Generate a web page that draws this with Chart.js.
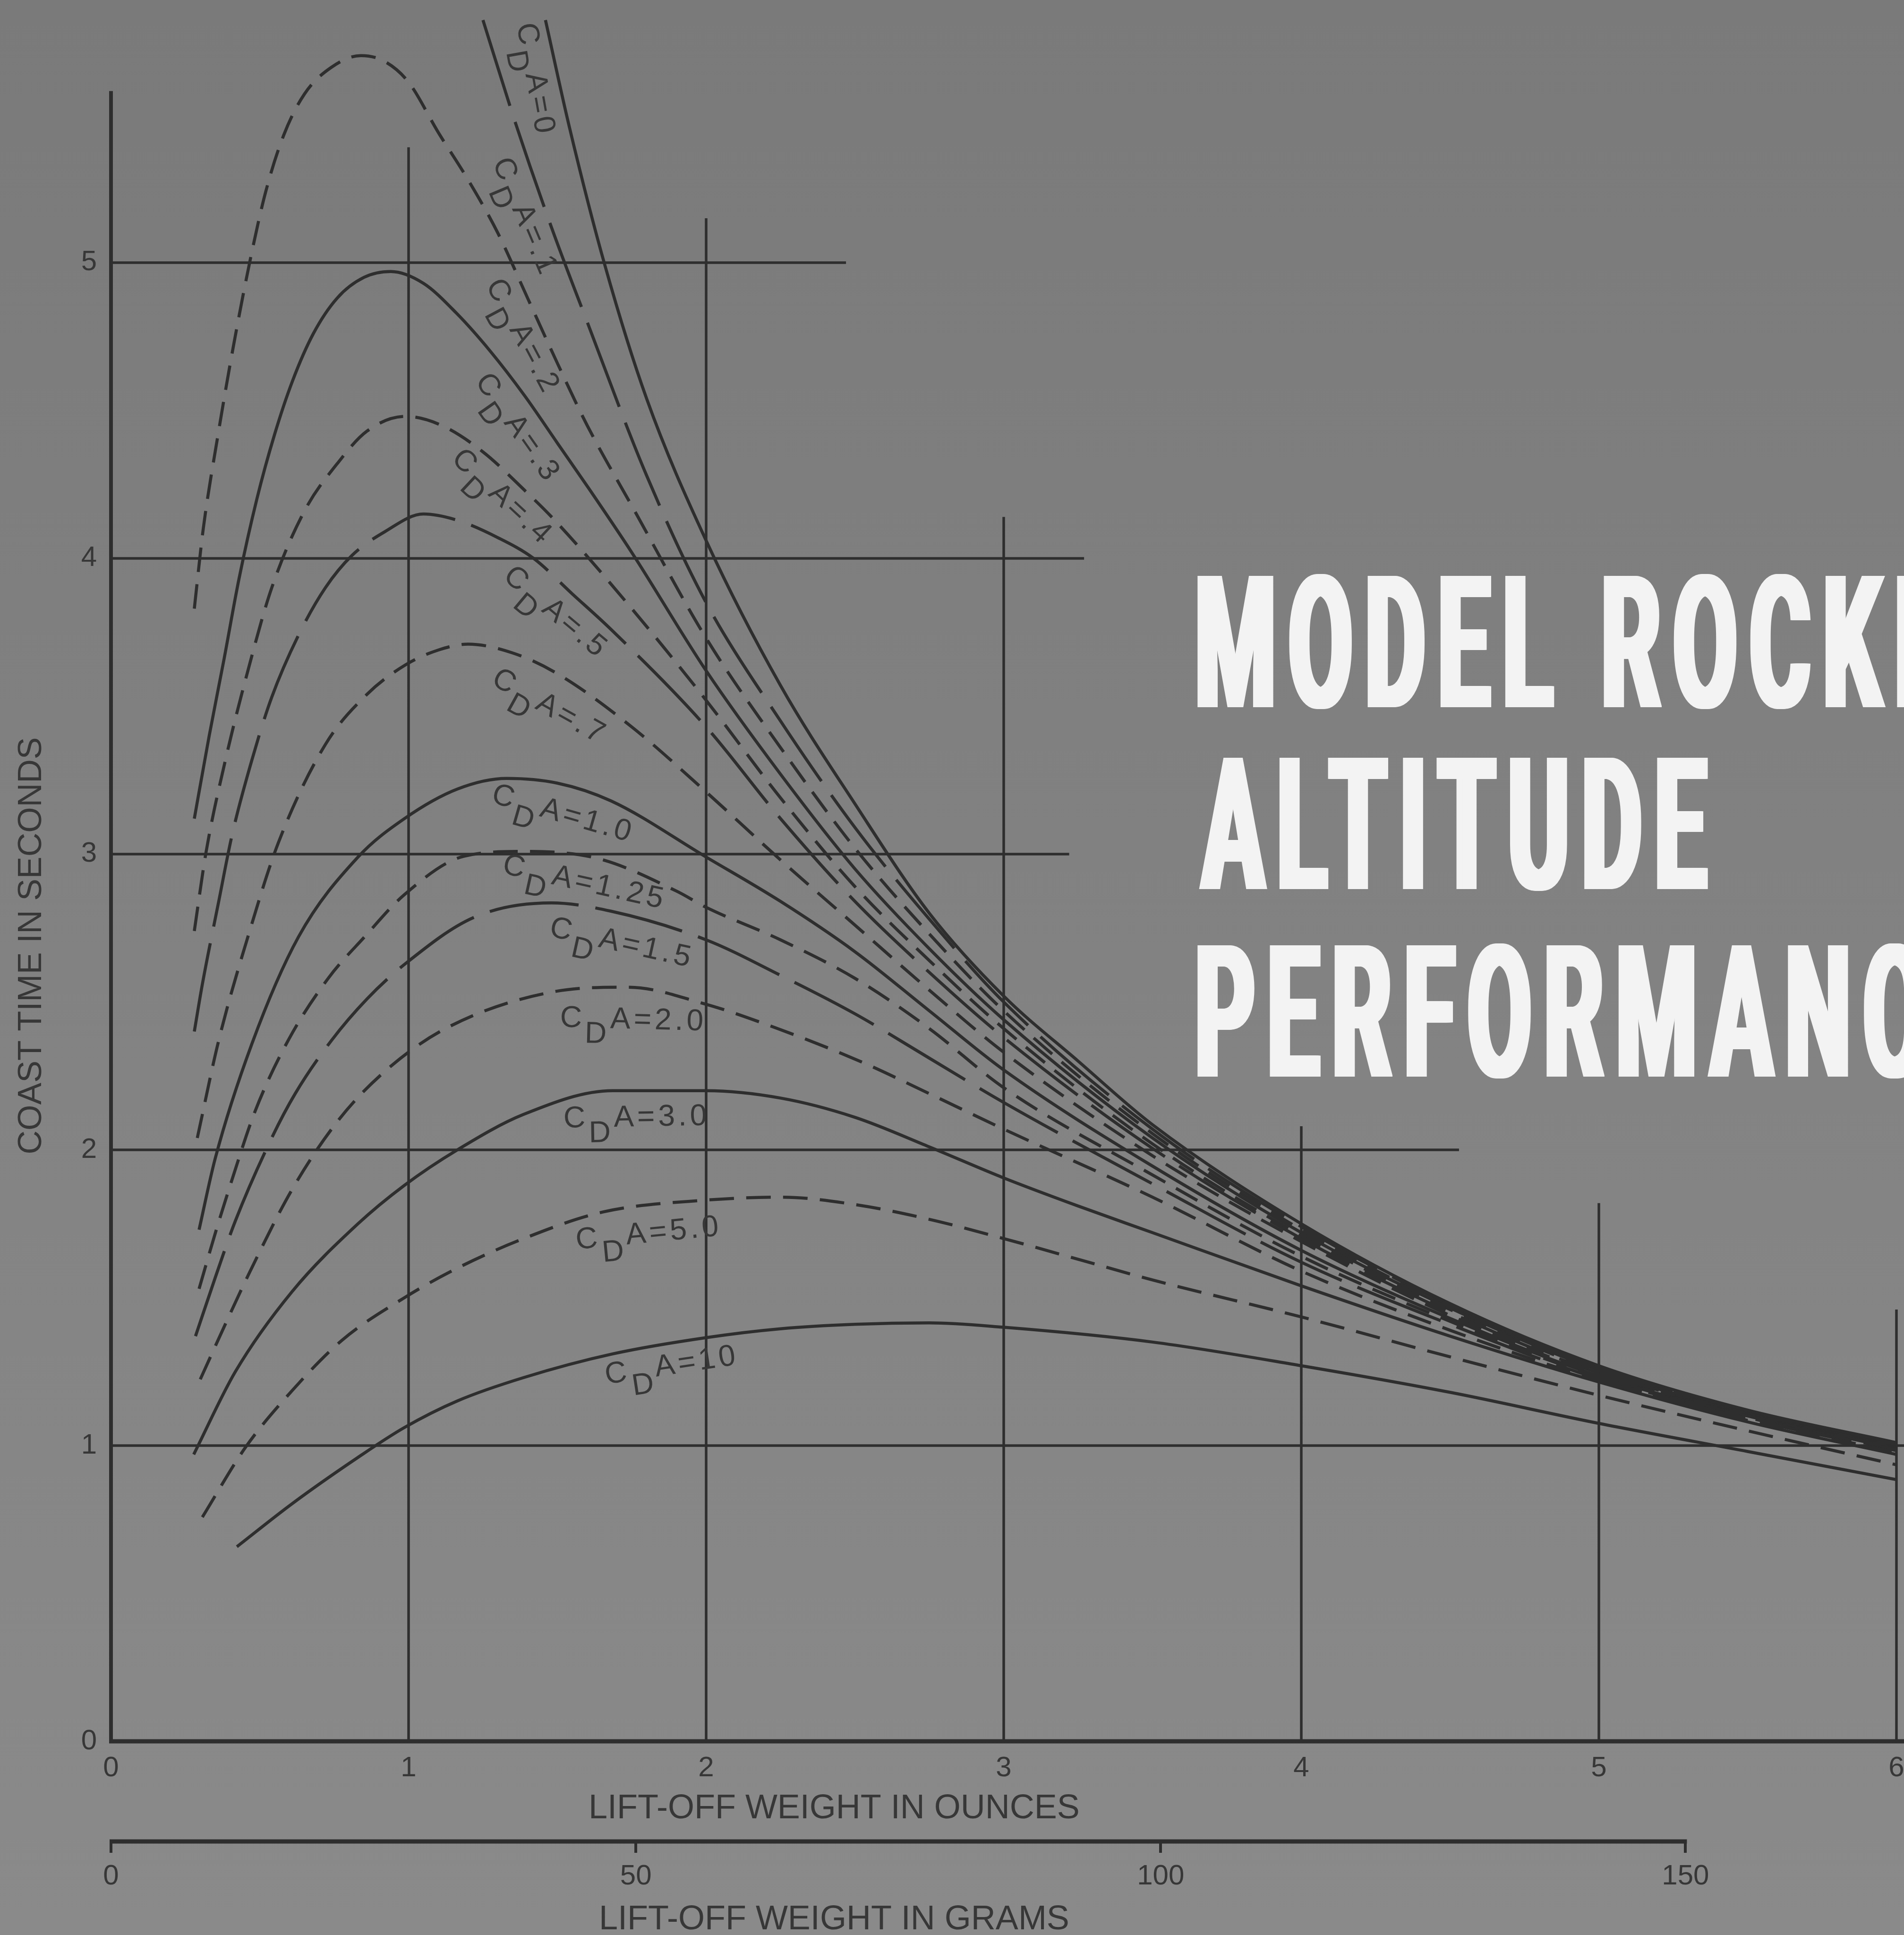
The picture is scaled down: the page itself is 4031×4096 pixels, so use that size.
<!DOCTYPE html>
<html>
<head>
<meta charset="utf-8">
<title>Model Rocketry Altitude Performance – Coast Time</title>
<script src="https://cdn.jsdelivr.net/npm/chart.js@4.4.1/dist/chart.umd.min.js"></script>
<style>
  html, body { margin: 0; padding: 0; background: #808080; overflow: hidden; }
  #wrap { width: 4031px; height: 4096px; position: relative; }
  canvas { display: block; }
</style>
</head>
<body>
<div id="wrap"><canvas id="chart" width="4031" height="4096"></canvas></div>
<script>
// ---------------------------------------------------------------
// Coast time (s) against lift-off weight (oz) for drag areas CDA
// ---------------------------------------------------------------
const ounceTicks  = [0, 1, 2, 3, 4, 5, 6];
const gramTicks   = [0, 50, 100, 150];
const secondTicks = [0, 1, 2, 3, 4, 5];
const cdaLabels   = ['0', '.1', '.2', '.3', '.4', '.5', '.7', '1.0', '1.25', '1.5', '2.0', '3.0', '5.0', '10'];

const cda0Weight = [1.46, 1.54, 1.66, 1.80, 2.00, 2.25, 2.50, 2.75, 3.00, 3.25, 3.50, 4.00, 4.50, 5.00, 5.50, 6.00];
const cda0Coast  = [5.82, 5.46, 4.99, 4.54, 4.06, 3.57, 3.17, 2.80, 2.52, 2.30, 2.085, 1.75, 1.48, 1.27, 1.12, 1.01];

const cda01Weight = [1.25, 1.36, 1.48, 1.60, 1.80, 2.00, 2.25, 2.50, 2.75, 3.00, 3.50, 4.00, 4.50, 5.00, 5.50, 6.00];
const cda01Coast  = [5.82, 5.47, 5.12, 4.80, 4.28, 3.85, 3.45, 3.09, 2.78, 2.50, 2.07, 1.74, 1.475, 1.265, 1.118, 1.008];

const cda02Weight = [0.28, 0.31, 0.36, 0.41, 0.47, 0.52, 0.58, 0.65, 0.74, 0.84, 0.92, 1.00, 1.10, 1.20, 1.30, 1.40, 1.50, 1.60, 1.76, 2.00, 2.25, 2.50, 2.75, 3.00, 3.50, 4.00, 4.50, 5.00, 5.50, 6.00];
const cda02Coast  = [3.83, 4.10, 4.42, 4.71, 5.02, 5.24, 5.43, 5.57, 5.66, 5.70, 5.68, 5.61, 5.44, 5.28, 5.10, 4.88, 4.66, 4.45, 4.16, 3.73, 3.36, 3.02, 2.73, 2.47, 2.055, 1.73, 1.47, 1.26, 1.115, 1.005];

const cda03Weight = [0.28, 0.33, 0.38, 0.43, 0.49, 0.55, 0.61, 0.68, 0.76, 0.85, 0.94, 1.05, 1.16, 1.275, 1.39, 1.50, 1.61, 1.75, 2.00, 2.25, 2.50, 2.75, 3.00, 3.50, 4.00, 4.50, 5.00, 5.50, 6.00];
const cda03Coast  = [3.12, 3.40, 3.66, 3.93, 4.20, 4.42, 4.60, 4.76, 4.88, 4.95, 4.97, 4.93, 4.83, 4.70, 4.55, 4.39, 4.23, 4.02, 3.62, 3.27, 2.95, 2.68, 2.44, 2.04, 1.72, 1.465, 1.255, 1.112, 1.003];

const cda04Weight = [0.28, 0.32, 0.385, 0.46, 0.54, 0.65, 0.76, 0.86, 0.99, 1.11, 1.25, 1.39, 1.49, 1.75, 2.00, 2.25, 2.50, 2.75, 3.00, 3.50, 4.00, 4.50, 5.00, 5.50, 6.00];
const cda04Coast  = [2.74, 3.01, 3.32, 3.62, 3.90, 4.16, 4.32, 4.43, 4.48, 4.45, 4.36, 4.23, 4.13, 3.83, 3.52, 3.19, 2.89, 2.64, 2.41, 2.02, 1.71, 1.46, 1.25, 1.11, 1.00];

const cda05Weight = [0.28, 0.307, 0.362, 0.407, 0.474, 0.54, 0.63, 0.72, 0.81, 0.92, 1.05, 1.16, 1.30, 1.42, 1.55, 1.68, 2.00, 2.25, 2.50, 2.75, 3.00, 3.50, 4.00, 4.50, 5.00, 5.50, 6.00];
const cda05Coast  = [2.40, 2.56, 2.84, 3.065, 3.32, 3.53, 3.74, 3.90, 4.01, 4.09, 4.15, 4.13, 4.07, 4.00, 3.88, 3.76, 3.43, 3.12, 2.84, 2.60, 2.38, 2.005, 1.70, 1.45, 1.245, 1.107, 0.998];

const cda07Weight = [0.29, 0.362, 0.463, 0.563, 0.72, 0.86, 0.99, 1.10, 1.20, 1.35, 1.50, 1.75, 2.00, 2.25, 2.50, 2.75, 3.00, 3.50, 4.00, 4.50, 5.00, 5.50, 6.00];
const cda07Coast  = [2.04, 2.37, 2.73, 3.04, 3.37, 3.54, 3.64, 3.69, 3.71, 3.68, 3.61, 3.43, 3.21, 2.98, 2.76, 2.54, 2.33, 1.98, 1.69, 1.44, 1.24, 1.103, 0.995];

const cda10Weight = [0.296, 0.35, 0.474, 0.63, 0.83, 0.986, 1.164, 1.33, 1.50, 1.68, 2.00, 2.25, 2.50, 2.75, 3.00, 3.50, 4.00, 4.50, 5.00, 5.50, 6.00];
const cda10Coast  = [1.73, 1.97, 2.36, 2.72, 2.99, 3.12, 3.22, 3.256, 3.24, 3.18, 2.99, 2.84, 2.67, 2.47, 2.27, 1.945, 1.66, 1.43, 1.235, 1.10, 0.99];

const cda125Weight = [0.296, 0.351, 0.407, 0.484, 0.597, 0.73, 0.852, 0.986, 1.187, 1.387, 1.637, 1.90, 2.00, 2.25, 2.50, 2.75, 3.00, 3.50, 4.00, 4.50, 5.00, 5.50, 6.00];
const cda125Coast  = [1.53, 1.72, 1.90, 2.13, 2.373, 2.58, 2.72, 2.863, 2.993, 3.009, 2.985, 2.875, 2.82, 2.71, 2.58, 2.41, 2.21, 1.915, 1.64, 1.42, 1.23, 1.095, 0.987];

const cda15Weight = [0.284, 0.351, 0.418, 0.54, 0.619, 0.741, 0.86, 0.99, 1.22, 1.48, 1.68, 2.00, 2.25, 2.50, 2.75, 3.00, 3.50, 4.00, 4.50, 5.00, 5.50, 6.00];
const cda15Coast  = [1.37, 1.57, 1.76, 2.04, 2.19, 2.37, 2.51, 2.63, 2.786, 2.835, 2.807, 2.71, 2.59, 2.46, 2.31, 2.16, 1.885, 1.62, 1.41, 1.225, 1.09, 0.983];

const cda20Weight = [0.30, 0.384, 0.463, 0.608, 0.764, 0.92, 1.124, 1.49, 1.737, 1.99, 2.24, 2.516, 2.75, 3.00, 3.50, 4.00, 4.50, 5.00, 5.50, 6.00];
const cda20Coast  = [1.224, 1.41, 1.58, 1.865, 2.10, 2.265, 2.41, 2.535, 2.55, 2.495, 2.41, 2.30, 2.19, 2.07, 1.84, 1.59, 1.39, 1.22, 1.085, 0.978];

const cda30Weight = [0.278, 0.418, 0.608, 0.83, 0.986, 1.164, 1.387, 1.686, 2.00, 2.25, 2.50, 2.75, 3.00, 3.25, 3.50, 4.00, 4.50, 5.00, 5.50, 6.00];
const cda30Coast  = [0.97, 1.25, 1.52, 1.75, 1.88, 2.00, 2.12, 2.20, 2.20, 2.175, 2.11, 2.01, 1.905, 1.81, 1.72, 1.54, 1.37, 1.215, 1.08, 0.97];

const cda50Weight = [0.307, 0.452, 0.608, 0.775, 0.986, 1.164, 1.387, 1.654, 2.00, 2.25, 2.50, 2.75, 3.00, 3.25, 3.50, 4.00, 4.50, 5.00, 5.50, 6.00];
const cda50Coast  = [0.758, 0.994, 1.185, 1.355, 1.50, 1.60, 1.70, 1.79, 1.83, 1.84, 1.815, 1.765, 1.70, 1.63, 1.56, 1.435, 1.30, 1.17, 1.05, 0.935];

const cda100Weight = [0.423, 0.608, 0.83, 0.986, 1.164, 1.387, 1.686, 2.00, 2.25, 2.50, 2.75, 3.00, 3.50, 4.00, 4.50, 5.00, 5.50, 6.00];
const cda100Coast  = [0.658, 0.803, 0.96, 1.061, 1.151, 1.23, 1.31, 1.365, 1.395, 1.41, 1.415, 1.40, 1.35, 1.27, 1.18, 1.075, 0.98, 0.885];

// ---------------------------------------------------------------
// Drawing constants
// ---------------------------------------------------------------
const GRAMS_PER_OUNCE = 28.3495;
const FONT = '"Liberation Sans", Arial, Helvetica, sans-serif';
const INK = '#2e2e2e';
const TEXT_INK = '#373737';
const TITLE_INK = '#f3f3f3';

const lineStyles = {
  solid: [],
  dash: [52, 26],
  long: [190, 36]
};

const curveSeries = [
  { w: cda0Weight,   t: cda0Coast,   style: 'solid' },
  { w: cda01Weight,  t: cda01Coast,  style: 'long'  },
  { w: cda02Weight,  t: cda02Coast,  style: 'dash'  },
  { w: cda03Weight,  t: cda03Coast,  style: 'solid' },
  { w: cda04Weight,  t: cda04Coast,  style: 'dash'  },
  { w: cda05Weight,  t: cda05Coast,  style: 'long'  },
  { w: cda07Weight,  t: cda07Coast,  style: 'dash'  },
  { w: cda10Weight,  t: cda10Coast,  style: 'solid' },
  { w: cda125Weight, t: cda125Coast, style: 'dash'  },
  { w: cda15Weight,  t: cda15Coast,  style: 'long'  },
  { w: cda20Weight,  t: cda20Coast,  style: 'dash'  },
  { w: cda30Weight,  t: cda30Coast,  style: 'solid' },
  { w: cda50Weight,  t: cda50Coast,  style: 'dash'  },
  { w: cda100Weight, t: cda100Coast, style: 'solid' }
];

// where each curve label sits (ounces, seconds, rotation in degrees)
const labelPlacement = [
  [1.417, 5.617, 80], [1.383, 5.150, 67], [1.376, 4.745, 62], [1.360, 4.435, 55],
  [1.310, 4.200, 43], [1.490, 3.810, 40], [1.470, 3.490, 29], [1.517, 3.127, 16],
  [1.590, 2.895, 12.5], [1.715, 2.690, 12.5], [1.755, 2.430, 1.5], [1.767, 2.100, -1],
  [1.808, 1.708, -5.5], [1.886, 1.262, -8.6]
];

// stepped reference rules: vertical rule tops (s) at each ounce, horizontal rule ends (oz) at each second
const verticalRuleTops = [5.58, 5.39, 5.15, 4.14, 2.08, 1.82, 1.46];
const horizontalRuleEnds = [null, null, 4.53, 3.22, 3.27, 2.47];

const datasets = curveSeries.map((c, i) => ({
  label: 'CDA=' + cdaLabels[i],
  data: c.w.map((w, k) => ({ x: w, y: c.t[k] })),
  borderColor: INK,
  borderWidth: 6.5,
  borderDash: lineStyles[c.style],
  borderCapStyle: 'butt',
  borderJoinStyle: 'round',
  pointRadius: 0,
  fill: false,
  cubicInterpolationMode: 'monotone',
  xAxisID: 'x',
  yAxisID: 'y'
}));

// ---------------------------------------------------------------
// Plugins
// ---------------------------------------------------------------
const paperPlugin = {
  id: 'paper',
  beforeDraw(chart) {
    const ctx = chart.ctx;
    const g = ctx.createLinearGradient(0, 0, 0, chart.height);
    g.addColorStop(0, '#7a7a7a');
    g.addColorStop(0.5, '#828282');
    g.addColorStop(1, '#8a8a8a');
    ctx.save();
    ctx.fillStyle = g;
    ctx.fillRect(0, 0, chart.width, chart.height);
    ctx.restore();
  }
};

const rulesPlugin = {
  id: 'rules',
  beforeDatasetsDraw(chart) {
    const { ctx } = chart;
    const xs = chart.scales.x, ys = chart.scales.y, gs = chart.scales.xg;
    ctx.save();
    ctx.strokeStyle = INK;
    ctx.lineCap = 'butt';
    // vertical rules
    ounceTicks.forEach((oz, i) => {
      const px = xs.getPixelForValue(oz);
      ctx.lineWidth = i === 0 ? 8 : 5.5;
      ctx.beginPath();
      ctx.moveTo(px, ys.getPixelForValue(0));
      ctx.lineTo(px, ys.getPixelForValue(verticalRuleTops[i]));
      ctx.stroke();
    });
    // horizontal rules
    secondTicks.forEach((s, i) => {
      const py = ys.getPixelForValue(s);
      const end = horizontalRuleEnds[i] === null ? chart.width : xs.getPixelForValue(horizontalRuleEnds[i]);
      ctx.lineWidth = i === 0 ? 9 : 5.5;
      ctx.beginPath();
      ctx.moveTo(xs.getPixelForValue(0) - (i === 0 ? 4 : 0), py);
      ctx.lineTo(end, py);
      ctx.stroke();
    });
    // gram scale base line
    ctx.lineWidth = 9;
    ctx.beginPath();
    ctx.moveTo(gs.getPixelForValue(gramTicks[0]) - 3, gs.top);
    ctx.lineTo(gs.getPixelForValue(gramTicks[gramTicks.length - 1]) + 3, gs.top);
    ctx.stroke();
    ctx.restore();
  }
};

const LABEL_SIZE = 64;
function drawCdaLabel(ctx, px, py, angle, value) {
  ctx.save();
  ctx.translate(px, py);
  ctx.rotate(angle * Math.PI / 180);
  ctx.fillStyle = TEXT_INK;
  ctx.textBaseline = 'alphabetic';
  ctx.textAlign = 'left';
  ctx.font = LABEL_SIZE + 'px ' + FONT;
  if ('letterSpacing' in ctx) ctx.letterSpacing = '7px';
  const rest = 'A=' + value;
  const wC = ctx.measureText('C').width;
  const wD = ctx.measureText('D').width;
  const wR = ctx.measureText(rest).width;
  let x = -(wC + wD + wR) / 2;
  const base = LABEL_SIZE * 0.2;
  ctx.fillText('C', x, base); x += wC;
  ctx.fillText('D', x, base + LABEL_SIZE * 0.5); x += wD;
  ctx.fillText(rest, x, base);
  ctx.restore();
}

// condensed headline: glyphs squeezed horizontally, stems widened by repeated fills
function drawHeadline(ctx) {
  const lines = [
    ['MODEL ROCKETRY', 2523, 1497],
    ['ALTITUDE', 2538, 1882],
    ['PERFORMANCE', 2523, 2279]
  ];
  const size = 391;
  const squeeze = 0.5;
  const thicken = 14;
  const targetWidth = 1082;
  ctx.save();
  ctx.font = '700 ' + size + 'px Roboto, "Liberation Sans", sans-serif';
  ctx.fillStyle = TITLE_INK;
  ctx.textBaseline = 'alphabetic';
  ctx.textAlign = 'left';
  const plain = ctx.measureText('ALTITUDE').width;
  const spacing = Math.max(0, ((targetWidth - thicken) / squeeze - plain) / 7);
  if ('letterSpacing' in ctx) ctx.letterSpacing = spacing + 'px';
  lines.forEach(([text, left, baseline]) => {
    ctx.save();
    ctx.translate(left, baseline);
    ctx.scale(squeeze, 1);
    for (let o = 0; o <= thicken; o += 2) ctx.fillText(text, o / squeeze, 0);
    ctx.restore();
  });
  ctx.restore();
}

const annotationPlugin = {
  id: 'annotations',
  afterDatasetsDraw(chart) {
    const { ctx } = chart;
    const xs = chart.scales.x, ys = chart.scales.y, gs = chart.scales.xg;
    // curve labels
    labelPlacement.forEach(([oz, s, ang], i) => {
      drawCdaLabel(ctx, xs.getPixelForValue(oz), ys.getPixelForValue(s), ang, cdaLabels[i]);
    });
    // axis titles
    ctx.save();
    ctx.fillStyle = TEXT_INK;
    ctx.font = '72px ' + FONT;
    ctx.textAlign = 'center';
    ctx.textBaseline = 'middle';
    ctx.fillText('LIFT-OFF WEIGHT IN OUNCES', xs.getPixelForValue(2.43), xs.top + 143);
    ctx.fillText('LIFT-OFF WEIGHT IN GRAMS', gs.getPixelForValue(2.43 * GRAMS_PER_OUNCE), gs.top + 166);
    ctx.font = '70px ' + FONT;
    ctx.translate(68, ys.getPixelForValue(2.69));
    ctx.rotate(-Math.PI / 2);
    ctx.fillText('COAST TIME IN SECONDS', 0, 0);
    ctx.restore();
    drawHeadline(ctx);
  }
};

// ---------------------------------------------------------------
// Chart
// ---------------------------------------------------------------
const tickFont = { family: FONT, size: 60 };

new Chart(document.getElementById('chart'), {
  type: 'line',
  data: { datasets },
  options: {
    responsive: false,
    animation: false,
    devicePixelRatio: 1,
    events: [],
    layout: { padding: { left: 0, right: 16, top: 0, bottom: 0 } },
    plugins: {
      legend: { display: false },
      tooltip: { enabled: false },
      title: { display: false }
    },
    scales: {
      x: {
        type: 'linear', position: 'bottom', weight: 0,
        min: 0, max: 6,
        grid: { display: false, drawTicks: false },
        border: { display: false },
        ticks: { font: tickFont, color: TEXT_INK, padding: 21, autoSkip: false, maxRotation: 0 },
        afterBuildTicks: s => { s.ticks = ounceTicks.map(v => ({ value: v })); },
        afterFit: s => { s.height = 212; s.paddingLeft = 0; s.paddingRight = 0; }
      },
      xg: {
        type: 'linear', position: 'bottom', weight: 1,
        min: 0, max: 6 * GRAMS_PER_OUNCE,
        grid: { display: true, drawOnChartArea: false, drawTicks: true, tickLength: 24, color: INK, lineWidth: 6 },
        border: { display: false },
        ticks: { font: tickFont, color: TEXT_INK, padding: 14, autoSkip: false, maxRotation: 0 },
        afterBuildTicks: s => { s.ticks = gramTicks.map(v => ({ value: v })); },
        afterFit: s => { s.height = 198; s.paddingLeft = 0; s.paddingRight = 0; }
      },
      y: {
        type: 'linear', position: 'left',
        min: 0, max: 5.888,
        grid: { display: false, drawTicks: false },
        border: { display: false },
        ticks: { font: tickFont, color: TEXT_INK, padding: 30 },
        afterBuildTicks: s => { s.ticks = secondTicks.map(v => ({ value: v })); },
        afterFit: s => { s.width = 235; s.paddingTop = 0; s.paddingBottom = 0; }
      }
    }
  },
  plugins: [paperPlugin, rulesPlugin, annotationPlugin]
});
</script>
</body>
</html>
